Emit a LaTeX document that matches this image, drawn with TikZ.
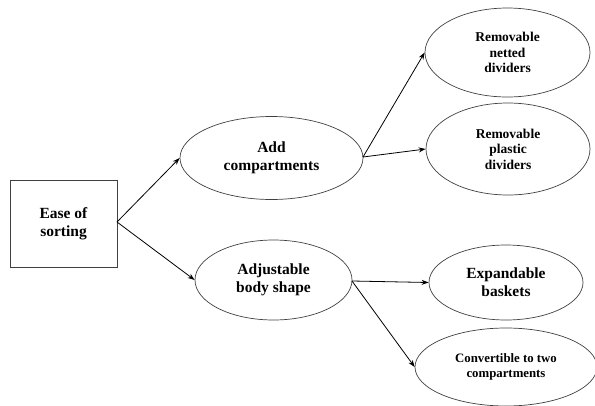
\documentclass[tikz,border=0pt]{standalone}
\usepackage{fontspec}
\setmainfont{Liberation Serif}
\usetikzlibrary{shapes.geometric,arrows.meta}
\begin{document}
\begin{tikzpicture}[x=1pt,y=-1pt,
  ell/.style={draw=black!75,line width=0.7pt,ellipse,inner sep=0pt,align=center,font=\bfseries},
  box/.style={draw=black!75,line width=0.8pt,rectangle,inner sep=0pt,align=center,font=\bfseries},
  conn/.style={draw=black,line width=0.8pt,-{Stealth[length=7pt,width=5pt]}}]
\useasboundingbox (0,0) rectangle (595,405);
\node[box,minimum width=107pt,minimum height=87pt,font=\bfseries\fontsize{15.5}{18}\selectfont] (ease) at (63.5,223.5) {Ease of\\sorting};
\node[ell,minimum width=183pt,minimum height=83pt,font=\bfseries\fontsize{15.5}{18}\selectfont] (add) at (271.5,158) {Add\\compartments};
\node[ell,minimum width=157pt,minimum height=80pt,font=\bfseries\fontsize{15.5}{18}\selectfont] (adj) at (273.5,280) {Adjustable\\body shape};
\node[ell,minimum width=165pt,minimum height=89pt,font=\bfseries\fontsize{13.5}{15.5}\selectfont] (net) at (507.5,52.5) {Removable\\netted\\dividers};
\node[ell,minimum width=164pt,minimum height=92pt,font=\bfseries\fontsize{13.5}{15.5}\selectfont] (pla) at (508,149) {Removable\\plastic\\dividers};
\node[ell,minimum width=154pt,minimum height=75pt,font=\bfseries\fontsize{15.5}{18}\selectfont] (exp) at (506,282.5) {Expandable\\baskets};
\node[ell,minimum width=182pt,minimum height=78pt,font=\bfseries\fontsize{12.8}{15}\selectfont] (con) at (506,367) {Convertible to two\\compartments};
\coordinate (e1) at (117,222);
\coordinate (a1) at (363,157);
\coordinate (b1) at (352,281);
\draw[conn] (e1) -- (add.west);
\draw[conn] (e1) -- (adj.west);
\draw[conn] (a1) -- (net.west);
\draw[conn] (a1) -- (pla.west);
\draw[conn] (b1) -- (exp.west);
\draw[conn] (b1) -- (con.west);
\end{tikzpicture}
\end{document}
